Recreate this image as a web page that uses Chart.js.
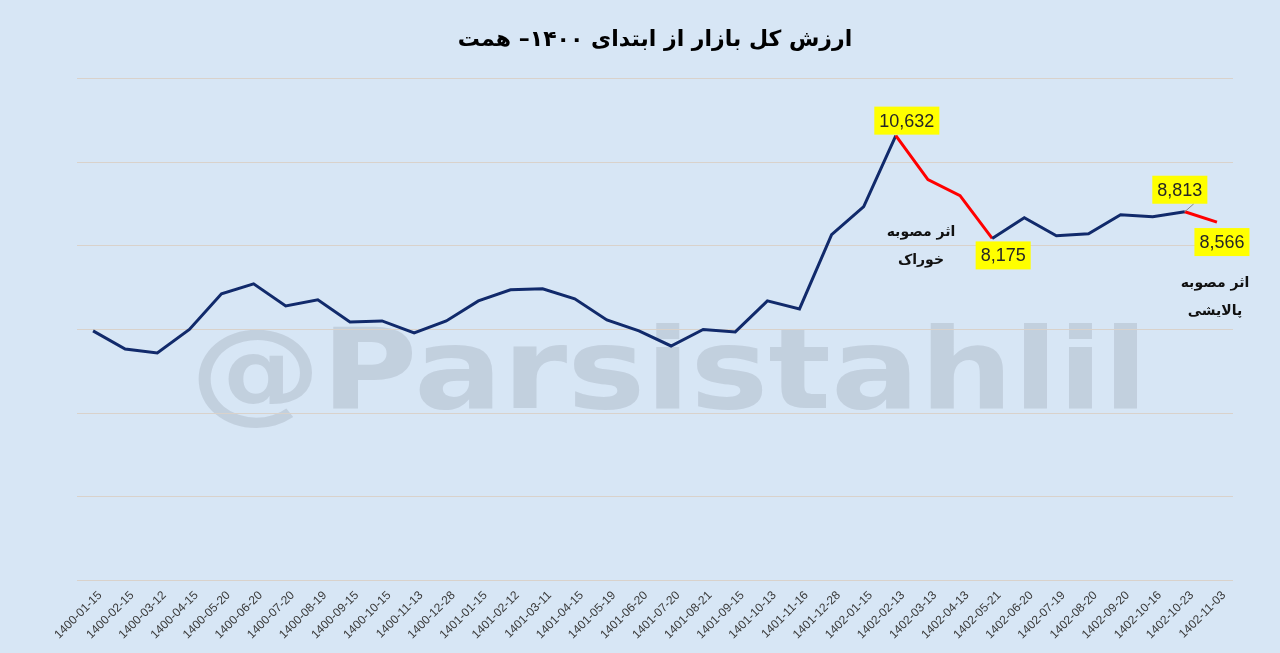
<!DOCTYPE html>
<html>
<head>
<meta charset="utf-8">
<title>ارزش کل بازار</title>
<script src="https://cdn.jsdelivr.net/npm/chart.js@4.4.1/dist/chart.umd.min.js"></script>
<style>
  html, body { margin: 0; padding: 0; background: #d7e6f5; }
  #wrap { width: 1280px; height: 653px; position: relative; }
</style>
</head>
<body>
<div id="wrap"><canvas id="marketChart"></canvas></div>
<script>
// chart data
const dates = [
  '1400-01-15', '1400-02-15', '1400-03-12', '1400-04-15', '1400-05-20', '1400-06-20',
  '1400-07-20', '1400-08-19', '1400-09-15', '1400-10-15', '1400-11-13', '1400-12-28',
  '1401-01-15', '1401-02-12', '1401-03-11', '1401-04-15', '1401-05-19', '1401-06-20',
  '1401-07-20', '1401-08-21', '1401-09-15', '1401-10-13', '1401-11-16', '1401-12-28',
  '1402-01-15', '1402-02-13', '1402-03-13', '1402-04-13', '1402-05-21', '1402-06-20',
  '1402-07-19', '1402-08-20', '1402-09-20', '1402-10-16', '1402-10-23', '1402-11-03'
];
const marketValue = [
  5964, 5532, 5437, 6000, 6850, 7089,
  6562, 6706, 6179, 6203, 5916, 6203,
  6682, 6946, 6970, 6730, 6227, 5964,
  5604, 6000, 5940, 6682, 6490, 8263,
  8933, 10632, 9580, 9197, 8175, 8670,
  8239, 8287, 8742, 8694, 8813, 8566
];
const redSegmentStarts = [25, 26, 27, 34];
const labelledPoints = [25, 28, 34, 35];
const yMin = 0, yMax = 12000, yStep = 2000;
const noteAnchors = [26, 35];
const noteLines = [['اثر مصوبه', 'خوراک'], ['اثر مصوبه', 'پالایشی']];
const chartTitle = 'ارزش کل بازار از ابتدای ۱۴۰۰– همت';
const watermark = '@Parsistahlil';

const NAVY = '#112a6b';
const RED = '#ff0000';

// background + watermark under everything
const backdrop = {
  id: 'backdrop',
  beforeDraw(chart) {
    const ctx = chart.ctx;
    ctx.save();
    ctx.fillStyle = '#d7e6f5';
    ctx.fillRect(0, 0, chart.width, chart.height);
    ctx.font = 'bold 112px "DejaVu Sans"';
    ctx.textBaseline = 'alphabetic';
    ctx.textAlign = 'left';
    const w = ctx.measureText(watermark).width;
    const target = 958;
    ctx.translate(190, 408);
    ctx.scale(target / w, 1);
    ctx.fillStyle = 'rgba(130, 140, 152, 0.24)';
    ctx.fillText(watermark, 0, 0);
    ctx.restore();
  }
};

// yellow value boxes + notes
const callouts = {
  id: 'callouts',
  afterDatasetsDraw(chart) {
    const ctx = chart.ctx;
    const meta = chart.getDatasetMeta(0);
    // box offsets relative to the point: [dx, dy of box centre]
    const offs = { 25: [11, -15], 28: [11, 17], 34: [-5, -22], 35: [5, 20] };
    ctx.save();
    ctx.font = '18px "Liberation Sans"';
    ctx.textAlign = 'center';
    ctx.textBaseline = 'middle';
    labelledPoints.forEach(i => {
      const p = meta.data[i];
      const txt = marketValue[i].toLocaleString('en-US');
      const o = offs[i] || [0, -20];
      const cx = p.x + o[0], cy = p.y + o[1];
      const bw = ctx.measureText(txt).width + 10, bh = 28;
      if (i === 34) {
        ctx.strokeStyle = '#8a8a8a';
        ctx.lineWidth = 1;
        ctx.beginPath();
        ctx.moveTo(cx + 14, cy + bh / 2);
        ctx.lineTo(p.x, p.y);
        ctx.stroke();
      }
      ctx.fillStyle = '#ffff00';
      ctx.fillRect(cx - bw / 2, cy - bh / 2, bw, bh);
      ctx.fillStyle = '#262626';
      ctx.fillText(txt, cx, cy + 1);
    });

    ctx.font = 'bold 14px "DejaVu Sans"';
    ctx.fillStyle = '#111';
    ctx.direction = 'rtl';
    const noteOffs = [[-7, 53], [-2, 61]];
    noteAnchors.forEach((idx, k) => {
      const p = meta.data[idx];
      const [dx, dy] = noteOffs[k];
      noteLines[k].forEach((line, j) => {
        ctx.fillText(line, p.x + dx, p.y + dy + j * 28);
      });
    });
    ctx.restore();
  }
};

new Chart(document.getElementById('marketChart'), {
  type: 'line',
  data: {
    labels: dates,
    datasets: [{
      data: marketValue,
      borderColor: NAVY,
      borderWidth: 3,
      pointRadius: 0,
      tension: 0,
      segment: {
        borderColor: c => redSegmentStarts.includes(c.p0DataIndex) ? RED : NAVY
      }
    }]
  },
  options: {
    responsive: true,
    maintainAspectRatio: false,
    animation: false,
    layout: { padding: { left: 77, right: 47, top: 0, bottom: 11 } },
    plugins: {
      legend: { display: false },
      tooltip: { enabled: false },
      title: {
        display: true,
        text: chartTitle,
        color: '#000',
        font: { family: 'DejaVu Sans', size: 22, weight: 'bold' },
        padding: { top: 27, bottom: 25 }
      }
    },
    scales: {
      x: {
        offset: true,
        grid: { display: false },
        border: { display: false },
        ticks: {
          autoSkip: false,
          minRotation: 45,
          maxRotation: 45,
          labelOffset: 7,
          color: '#3a3a3a',
          padding: 0,
          font: { family: 'Liberation Sans', size: 12 }
        }
      },
      y: {
        min: yMin,
        max: yMax,
        ticks: { display: false, stepSize: yStep },
        grid: { color: '#d9d2cb', lineWidth: 1, drawTicks: false },
        border: { display: false }
      }
    }
  },
  plugins: [backdrop, callouts]
});
</script>
</body>
</html>
